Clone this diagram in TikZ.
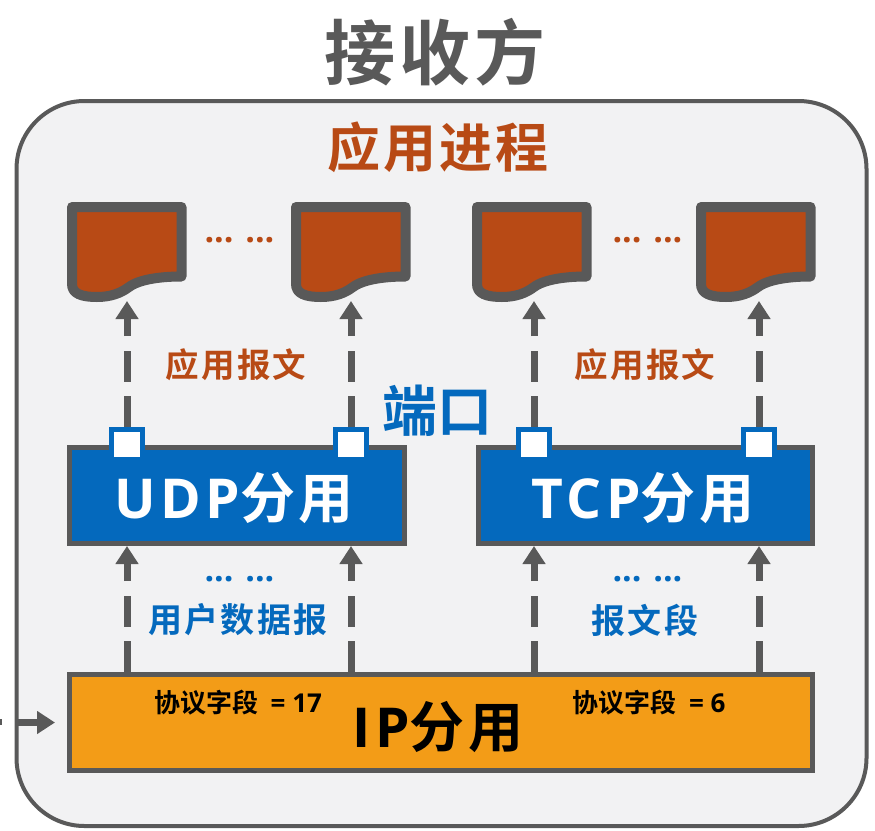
\documentclass[tikz,border=0pt]{standalone}
\usepackage{fontspec}
\usetikzlibrary{arrows.meta}
\setmainfont{Open Sans}
\newfontfamily\cjk{Noto Sans CJK SC}[BoldFont={* Bold}]
\newfontfamily\cjksp{Noto Sans CJK SC}[BoldFont={* Bold},LetterSpace=6]
\newfontfamily\latsp{Open Sans}[LetterSpace=8]
\newfontfamily\lat{Open Sans}
\newcommand{\fz}[1]{\fontsize{#1}{#1}\selectfont}
\definecolor{gr}{HTML}{595959}
\definecolor{br}{HTML}{B84A15}
\definecolor{bl}{HTML}{0469BD}
\definecolor{og}{HTML}{F39C17}
\definecolor{pn}{HTML}{F2F2F3}
\tikzset{
  x=1pt,y=-1pt,
  inv/.style={inner sep=0,outer sep=0,minimum width=118pt,minimum height=98pt},
  layer/.style={draw=gr,line width=5pt,inner sep=0,outer sep=2.5pt,minimum height=96pt},
  port/.style={draw=bl,fill=white,line width=5pt,inner sep=0,outer sep=2.5pt,minimum width=31pt,minimum height=30pt},
  conn/.style={draw=gr,line width=7pt,dash pattern=on 31pt off 14.5pt,-{Triangle[width=22pt,length=18pt,fill=gr]}},
  docs/.style={draw=gr,fill=br,line width=10pt,line join=round},
  lab/.style={inner sep=0,font=\cjk\bfseries},
}
\newcommand{\docshape}[1]{%
  \draw[docs,shift={(#1,0)}] (-55,212) -- (-55,207) -- (54.5,207) -- (54.5,276.5)
    .. controls (35,276.5) and (13,279) .. (2,287)
    .. controls (-6,293) and (-16,297) .. (-30,297)
    .. controls (-45,297) and (-55,294) .. (-55,284) -- cycle;}
\begin{document}
\begin{tikzpicture}
\useasboundingbox (0,0) rectangle (875,830);
\fill[white] (0,0) rectangle (875,830);
\fill[gr] (0,719) rectangle (1.5,725);
\node[draw=gr,fill=pn,line width=4pt,rounded corners=68pt,minimum width=850pt,minimum height=725pt,inner sep=0] (panel) at (441.5,463.5) {};
\node[lab,text=gr] (title) at (435,52) {\fz{71}\cjksp\bfseries 接收方};
\node[lab,text=br] (app) at (438,147) {\fz{53}\cjksp\bfseries 应用进程};
% documents
\docshape{127}\docshape{351}\docshape{532}\docshape{756}
\node[inv] (d1) at (127,252) {};
\node[inv] (d2) at (351,252) {};
\node[inv] (d3) at (534,252) {};
\node[inv] (d4) at (759,252) {};
% layers
\node[layer,fill=bl,minimum width=335pt] (udp) at (237,495.5) {};
\node[layer,fill=bl,minimum width=334pt] (tcp) at (645.5,495.5) {};
\node[layer,fill=og,minimum width=743pt] (ip) at (441,722.5) {};
\node[lab,text=white] at (234,498) {\fz{55}\latsp\bfseries UDP\cjksp 分用};
\node[lab,text=white] at (643,498) {\fz{55}\latsp\bfseries TCP\cjksp 分用};
\node[lab,text=black] at (438,727) {\fz{55}\latsp\bfseries IP\cjksp 分用};
\node[lab,text=black] at (238,703) {\fz{26}\cjk\bfseries 协议字段 {\lat\bfseries\fz{26} = 17}};
\node[lab,text=black] at (649,703) {\fz{26}\cjk\bfseries 协议字段 {\lat\bfseries\fz{26} = 6}};
% ports
\node[port] (p1) at (127,444.5) {};
\node[port] (p2) at (351,444.5) {};
\node[port] (p3) at (534,444.5) {};
\node[port] (p4) at (759,444.5) {};
% upper connectors
\foreach \p/\d in {p1/d1,p2/d2,p3/d3,p4/d4}
  \draw[conn] (\p.north) -- (\d.south);
% lower connectors
\coordinate (u1) at (127,672); \coordinate (u2) at (351,672);
\coordinate (u3) at (534,672); \coordinate (u4) at (759,672);
\coordinate (v1) at (127,546); \coordinate (v2) at (351,546);
\coordinate (v3) at (534,546); \coordinate (v4) at (759,546);
\foreach \i in {1,2,3,4}
  \draw[conn] (u\i) -- (v\i);
\coordinate (in) at (17,722.5);
\draw[draw=gr,line width=7pt,shorten >=12pt,-{Triangle[width=22pt,length=18pt,fill=gr]}] (in) -- (ip.west);
% labels
\node[lab,text=br] at (236,365) {\fz{33.5}\cjksp\bfseries 应用报文};
\node[lab,text=br] at (645,365) {\fz{33.5}\cjksp\bfseries 应用报文};
\node[lab,text=bl] at (437,411) {\fz{55}\cjk\bfseries 端口};
\node[lab,text=bl] at (238,620) {\fz{34}\cjksp\bfseries 用户数据报};
\node[lab,text=bl] at (645,620) {\fz{34}\cjksp\bfseries 报文段};
\node[lab,text=br] at (239.5,240) {\fz{34}\lat\bfseries ... ...};
\node[lab,text=br] at (647.5,240) {\fz{34}\lat\bfseries ... ...};
\node[lab,text=bl] at (239.5,579) {\fz{34}\lat\bfseries ... ...};
\node[lab,text=bl] at (647.5,579) {\fz{34}\lat\bfseries ... ...};
\end{tikzpicture}
\end{document}
